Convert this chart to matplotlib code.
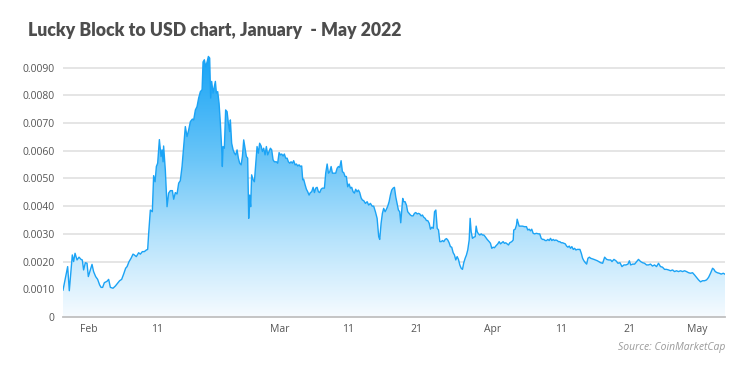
import matplotlib.pyplot as plt
import numpy as np
from matplotlib.colors import LinearSegmentedColormap

# LBLOCK/USD, days since 1 Feb 2022 (negative = late January)
day = [
    -3.70, -3.02, -2.78, -2.34, -2.15, -1.94, -1.65, -1.36, -1.07, -0.88,
    -0.69, -0.44, -0.19, 0.00, 0.29, 0.54, 0.77, 1.07, 1.36, 1.65,
    1.86, 2.09, 2.34, 2.73, 2.97, 3.22, 3.61, 3.95, 4.28, 4.57,
    4.87, 5.16, 5.45, 5.66, 5.95, 6.24, 6.53, 6.72, 7.01, 7.35,
    7.60, 7.89, 8.18, 8.48, 8.67, 8.81, 9.06, 9.35, 9.54, 9.75,
    9.94, 10.13, 10.38, 10.62, 10.77, 10.92, 11.00, 11.25, 11.50, 11.73,
    11.98, 12.28, 12.47, 12.71, 12.96, 13.20, 13.44, 13.69, 13.93, 14.17,
    14.42, 14.66, 14.91, 15.20, 15.39, 15.64, 15.88, 16.12, 16.37, 16.62,
    16.76, 16.95, 17.14, 17.35, 17.54, 17.73, 17.87, 18.02, 18.22, 18.41,
    18.56, 18.71, 18.90, 19.10, 19.29, 19.48, 19.58, 19.68, 19.87, 20.06,
    20.27, 20.46, 20.65, 20.75, 20.94, 21.15, 21.34, 21.53, 21.73, 21.92,
    22.11, 22.32, 22.51, 22.70, 22.94, 23.09, 23.28, 23.43, 23.57, 23.72,
    23.86, 24.07, 24.26, 24.45, 24.65, 24.84, 25.03, 25.24, 25.43, 25.62,
    25.82, 26.01, 26.20, 26.40, 26.60, 26.79, 26.99, 27.18, 27.47, 27.66,
    27.87, 28.06, 28.25, 28.45, 28.64, 28.83, 29.04, 29.23, 29.42, 29.62,
    29.81, 30.00, 30.21, 30.40, 30.59, 30.79, 30.98, 31.17, 31.32, 31.46,
    31.67, 31.86, 32.05, 32.25, 32.44, 32.63, 32.84, 33.03, 33.22, 33.42,
    33.61, 33.80, 34.01, 34.20, 34.49, 34.68, 34.89, 35.08, 35.27, 35.47,
    35.66, 35.85, 36.14, 36.35, 36.54, 36.73, 36.93, 37.12, 37.31, 37.51,
    37.70, 37.89, 38.10, 38.29, 38.48, 38.68, 38.87, 39.06, 39.27, 39.46,
    39.65, 39.85, 40.04, 40.23, 40.48, 40.73, 40.96, 41.21, 41.46, 41.69,
    41.94, 42.19, 42.42, 42.57, 42.77, 42.96, 43.15, 43.36, 43.55, 43.74,
    43.94, 44.13, 44.32, 44.53, 44.72, 44.91, 45.11, 45.30, 45.49, 45.64,
    45.79, 45.93, 46.08, 46.28, 46.47, 46.66, 46.87, 47.06, 47.25, 47.45,
    47.64, 47.83, 48.04, 48.23, 48.42, 48.62, 48.81, 49.00, 49.21, 49.40,
    49.59, 49.80, 49.98, 50.18, 50.39, 50.58, 50.77, 50.97, 51.16, 51.35,
    51.55, 51.74, 51.93, 52.13, 52.32, 52.51, 52.71, 52.90, 53.09, 53.30,
    53.49, 53.68, 53.88, 54.07, 54.27, 54.47, 54.66, 54.85, 55.05, 55.24,
    55.43, 55.64, 55.78, 55.93, 56.12, 56.31, 56.52, 56.66, 56.81, 56.99,
    57.19, 57.40, 57.58, 57.78, 57.98, 58.27, 58.56, 58.75, 58.94, 59.14,
    59.33, 59.52, 59.82, 60.02, 60.21, 60.40, 60.60, 60.79, 60.98, 61.19,
    61.38, 61.57, 61.86, 62.07, 62.15, 62.36, 62.55, 62.65, 62.80, 62.94,
    63.13, 63.42, 63.72, 64.01, 64.20, 64.40, 64.59, 64.78, 64.99, 65.18,
    65.47, 65.76, 65.95, 66.16, 66.35, 66.54, 66.75, 66.94, 67.13, 67.33,
    67.52, 67.71, 67.92, 68.11, 68.30, 68.50, 68.69, 68.88, 69.09, 69.28,
    69.47, 69.68, 69.87, 70.06, 70.26, 70.45, 70.64, 70.85, 71.04, 71.23,
    71.44, 71.63, 71.82, 72.02, 72.21, 72.40, 72.61, 72.80, 72.99, 73.20,
    73.39, 73.87, 74.37, 74.85, 75.14, 75.43, 75.72, 76.02, 76.31, 76.50,
    76.79, 77.08, 77.38, 77.67, 77.96, 78.25, 78.54, 78.84, 79.04, 79.23,
    79.52, 79.81, 80.10, 80.37, 80.69, 80.98, 81.25, 81.55, 81.84, 82.13,
    82.42, 82.72, 83.01, 83.30, 83.59, 83.88, 84.18, 84.47, 84.76, 85.05,
    85.35, 85.64, 85.93, 86.22, 86.52, 86.81, 87.10, 87.39, 87.69, 87.98,
    88.27, 88.56, 88.86, 89.15, 89.44, 89.73, 90.03, 90.32, 90.61, 90.90,
    91.20, 91.39, 91.59, 91.88, 92.17, 92.46, 92.76, 93.05,
]
price = [
    0.00097, 0.00182, 0.00095, 0.00224, 0.00200, 0.00230, 0.00206, 0.00216, 0.00208, 0.00206,
    0.00170, 0.00196, 0.00194, 0.00146, 0.00170, 0.00190, 0.00164, 0.00146, 0.00136, 0.00116,
    0.00107, 0.00107, 0.00124, 0.00129, 0.00136, 0.00107, 0.00104, 0.00112, 0.00122, 0.00131,
    0.00136, 0.00155, 0.00176, 0.00182, 0.00200, 0.00212, 0.00227, 0.00224, 0.00218, 0.00232,
    0.00227, 0.00236, 0.00236, 0.00242, 0.00244, 0.00300, 0.00386, 0.00380, 0.00510, 0.00488,
    0.00543, 0.00555, 0.00640, 0.00579, 0.00603, 0.00560, 0.00617, 0.00530, 0.00398, 0.00447,
    0.00456, 0.00456, 0.00425, 0.00449, 0.00444, 0.00483, 0.00492, 0.00543, 0.00615, 0.00687,
    0.00651, 0.00675, 0.00705, 0.00714, 0.00711, 0.00747, 0.00759, 0.00790, 0.00813, 0.00820,
    0.00920, 0.00928, 0.00903, 0.00920, 0.00940, 0.00934, 0.00790, 0.00850, 0.00808, 0.00832,
    0.00850, 0.00808, 0.00813, 0.00771, 0.00699, 0.00609, 0.00543, 0.00615, 0.00609, 0.00747,
    0.00741, 0.00699, 0.00669, 0.00711, 0.00627, 0.00603, 0.00591, 0.00585, 0.00603, 0.00573,
    0.00555, 0.00549, 0.00579, 0.00639, 0.00603, 0.00579, 0.00573, 0.00356, 0.00440, 0.00398,
    0.00513, 0.00495, 0.00488, 0.00550, 0.00615, 0.00591, 0.00627, 0.00617, 0.00597, 0.00609,
    0.00585, 0.00615, 0.00585, 0.00597, 0.00609, 0.00603, 0.00567, 0.00560, 0.00560, 0.00555,
    0.00593, 0.00585, 0.00588, 0.00581, 0.00588, 0.00573, 0.00573, 0.00560, 0.00555, 0.00560,
    0.00555, 0.00564, 0.00549, 0.00552, 0.00545, 0.00549, 0.00543, 0.00545, 0.00495, 0.00497,
    0.00477, 0.00461, 0.00452, 0.00440, 0.00449, 0.00452, 0.00468, 0.00449, 0.00465, 0.00468,
    0.00452, 0.00449, 0.00461, 0.00465, 0.00465, 0.00519, 0.00552, 0.00519, 0.00524, 0.00543,
    0.00519, 0.00519, 0.00519, 0.00537, 0.00543, 0.00540, 0.00564, 0.00524, 0.00521, 0.00507,
    0.00507, 0.00470, 0.00480, 0.00465, 0.00468, 0.00452, 0.00447, 0.00461, 0.00452, 0.00458,
    0.00449, 0.00430, 0.00422, 0.00420, 0.00410, 0.00416, 0.00404, 0.00410, 0.00400, 0.00400,
    0.00380, 0.00356, 0.00290, 0.00280, 0.00338, 0.00374, 0.00392, 0.00380, 0.00389, 0.00400,
    0.00416, 0.00440, 0.00458, 0.00465, 0.00468, 0.00434, 0.00410, 0.00386, 0.00380, 0.00340,
    0.00386, 0.00428, 0.00416, 0.00416, 0.00404, 0.00380, 0.00374, 0.00368, 0.00365, 0.00365,
    0.00374, 0.00377, 0.00372, 0.00374, 0.00372, 0.00365, 0.00368, 0.00360, 0.00356, 0.00348,
    0.00348, 0.00338, 0.00317, 0.00324, 0.00320, 0.00380, 0.00386, 0.00320, 0.00314, 0.00272,
    0.00272, 0.00276, 0.00272, 0.00280, 0.00283, 0.00278, 0.00268, 0.00254, 0.00252, 0.00232,
    0.00224, 0.00206, 0.00218, 0.00208, 0.00188, 0.00176, 0.00172, 0.00196, 0.00212, 0.00224,
    0.00242, 0.00278, 0.00356, 0.00308, 0.00284, 0.00288, 0.00290, 0.00328, 0.00308, 0.00300,
    0.00296, 0.00300, 0.00296, 0.00296, 0.00290, 0.00280, 0.00272, 0.00266, 0.00248, 0.00252,
    0.00250, 0.00256, 0.00264, 0.00272, 0.00264, 0.00268, 0.00272, 0.00266, 0.00268, 0.00264,
    0.00260, 0.00268, 0.00272, 0.00278, 0.00314, 0.00317, 0.00332, 0.00353, 0.00340, 0.00328,
    0.00328, 0.00328, 0.00326, 0.00326, 0.00314, 0.00317, 0.00311, 0.00317, 0.00302, 0.00300,
    0.00302, 0.00300, 0.00300, 0.00284, 0.00280, 0.00280, 0.00276, 0.00276, 0.00280, 0.00276,
    0.00284, 0.00276, 0.00280, 0.00276, 0.00278, 0.00276, 0.00272, 0.00272, 0.00268, 0.00268,
    0.00266, 0.00264, 0.00256, 0.00252, 0.00256, 0.00248, 0.00254, 0.00244, 0.00248, 0.00242,
    0.00244, 0.00244, 0.00244, 0.00230, 0.00212, 0.00203, 0.00196, 0.00191, 0.00212, 0.00216,
    0.00212, 0.00208, 0.00203, 0.00196, 0.00194, 0.00216, 0.00208, 0.00206, 0.00206, 0.00200,
    0.00208, 0.00203, 0.00194, 0.00196, 0.00182, 0.00188, 0.00188, 0.00191, 0.00203, 0.00188,
    0.00191, 0.00191, 0.00200, 0.00208, 0.00200, 0.00196, 0.00194, 0.00188, 0.00188, 0.00191,
    0.00184, 0.00188, 0.00182, 0.00194, 0.00182, 0.00180, 0.00172, 0.00172, 0.00170, 0.00167,
    0.00170, 0.00164, 0.00167, 0.00164, 0.00167, 0.00164, 0.00167, 0.00164, 0.00160, 0.00158,
    0.00160, 0.00152, 0.00143, 0.00134, 0.00127, 0.00131, 0.00131, 0.00134, 0.00143, 0.00158,
    0.00176, 0.00172, 0.00164, 0.00160, 0.00158, 0.00155, 0.00158, 0.00154,
]

tick_days = [0, 10, 28, 38, 48, 59, 69, 79, 89]
tick_labels = ["Feb", "11", "Mar", "11", "21", "Apr", "11", "21", "May"]
y_ticks = [0, 0.001, 0.002, 0.003, 0.004, 0.005, 0.006, 0.007, 0.008, 0.009]

fig = plt.figure(figsize=(7.5, 3.77), dpi=100)
ax = fig.add_axes([0.084, 0.159, 0.883, 0.706])

# gradient fill under the line, clipped to the area polygon
fill = ax.fill_between(day, price, 0, facecolor="none", edgecolor="none")
cmap = LinearSegmentedColormap.from_list(
    "lb", [(0, "#f6fbff"), (0.3, "#b6e3fc"), (0.6, "#6cc6f8"), (1, "#18a4f6")])
grad = np.linspace(0, 1, 256).reshape(-1, 1)
im = ax.imshow(grad, extent=[day[0], day[-1], 0, max(price)], origin="lower",
               aspect="auto", cmap=cmap, zorder=1)
im.set_clip_path(fill.get_paths()[0], transform=ax.transData)

ax.plot(day, price, color="#1ba3f5", lw=1.0, zorder=3)

ax.set_xlim(day[0], day[-1])
ax.set_ylim(0, 0.0096)
ax.set_yticks(y_ticks)
ax.set_yticklabels(["0"] + [f"{v:.4f}" for v in y_ticks[1:]])
ax.set_xticks(tick_days)
ax.set_xticklabels(tick_labels)
ax.grid(axis="y", color="#dedede", lw=1.1, zorder=0)
ax.set_axisbelow(True)

for s in ["top", "right", "left"]:
    ax.spines[s].set_visible(False)
ax.spines["bottom"].set_color("#c0c0c0")
ax.spines["bottom"].set_linewidth(1.3)
ax.tick_params(axis="both", length=0, labelsize=7.5, labelcolor="#555555",
               labelfontfamily="Open Sans")
ax.tick_params(axis="y", pad=6)
ax.tick_params(axis="x", pad=5)

fig.text(0.037, 0.92, "Lucky Block to USD chart, January  - May 2022",
         fontsize=12.7, fontweight="heavy", color="#4d4d4d", family="Lato", va="center")
fig.text(0.967, 0.077, "Source: CoinMarketCap", ha="right", va="center",
         fontsize=7.5, style="italic", color="#9a9a9a", family="Open Sans")

fig.savefig("out.png", dpi=100)
